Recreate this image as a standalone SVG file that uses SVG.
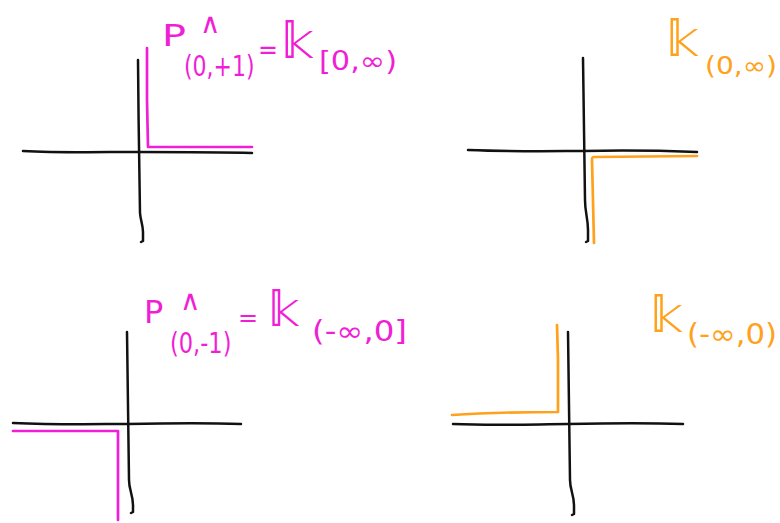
<svg xmlns="http://www.w3.org/2000/svg" width="780" height="523" viewBox="0 0 780 523">
<style>
.ax{fill:none;stroke:#111;stroke-width:2.5;stroke-linecap:round;stroke-linejoin:round}
.mg{fill:none;stroke:#f01fd6;stroke-width:2.7;stroke-linecap:round;stroke-linejoin:round}
.or{fill:none;stroke:#ffa11a;stroke-width:2.7;stroke-linecap:round;stroke-linejoin:round}
.tm{fill:#f01fd6;font-family:"DejaVu Sans","Noto Sans",sans-serif}
.to{fill:#ffa11a;font-family:"DejaVu Sans","Noto Sans",sans-serif}
</style>
<rect width="780" height="523" fill="#fff"/>
<g id="panel-top-left">
  <path class="ax" d="M138,60 C138.5,110 139,170 140,213 C140.5,220 143,225 143,232 L143,241 L141,242"/>
  <path class="ax" d="M23,151 C60,153 100,152 138,152 C180,152 220,152 252,153"/>
  <path class="mg" d="M147,48 L147,100 L148,147 L252,147"/>
  <g id="label-top-left">
    <text class="tm" x="162" y="46" font-size="30" textLength="24" lengthAdjust="spacingAndGlyphs">P</text>
    <text class="tm" x="200" y="33" font-size="28">∧</text>
    <text class="tm" transform="translate(184,76) scale(1,1.25)" x="0" y="0" font-size="22">(0,+1)</text>
    <text class="tm" x="258" y="59" font-size="26" textLength="20" lengthAdjust="spacingAndGlyphs">=</text>
    <text class="tm" x="281" y="58" font-size="50">𝕜</text>
    <text class="tm" x="319" y="70" font-size="26" textLength="78" lengthAdjust="spacingAndGlyphs">[0,∞)</text>
  </g>
</g>
<g id="panel-top-right">
  <path class="ax" d="M583,58 L585,200 C585,213 588,218 588,230 L588,241 L586,242"/>
  <path class="ax" d="M468,150 C520,152 560,151 583,151 C630,150 670,151 697,152"/>
  <path class="or" d="M697,156 L594,157 C592,157 592,158 592,160 L594,243"/>
  <g id="label-top-right">
    <text class="to" x="666" y="56" font-size="50">𝕜</text>
    <text class="to" x="705" y="74" font-size="24" textLength="72" lengthAdjust="spacingAndGlyphs">(0,∞)</text>
  </g>
</g>
<g id="panel-bottom-left">
  <path class="ax" d="M127,332 L129,480 C129,490 133,495 133,505 L133,512 L131,513"/>
  <path class="ax" d="M13,423 C60,425 100,424 127,424 C180,423 210,423 241,424"/>
  <path class="mg" d="M13,431 L118,431 L118,520"/>
  <g id="label-bottom-left">
    <text class="tm" x="144" y="323" font-size="32">P</text>
    <text class="tm" x="180" y="310" font-size="28">∧</text>
    <text class="tm" transform="translate(170,353) scale(1,1.25)" x="0" y="0" font-size="22.5">(0,-1)</text>
    <text class="tm" x="238" y="326" font-size="24">=</text>
    <text class="tm" x="268" y="326" font-size="48">𝕜</text>
    <text class="tm" x="312" y="341" font-size="28" textLength="95" lengthAdjust="spacingAndGlyphs">(-∞,0]</text>
  </g>
</g>
<g id="panel-bottom-right">
  <path class="ax" d="M568,332 L570,480 C570,490 574,495 574,505 L574,514 L572,515"/>
  <path class="ax" d="M453,424 C500,426 540,424 568,424 C620,423 650,423 683,424"/>
  <path class="or" d="M452,415 C480,413 520,412 558,412 L558,360 L557,325"/>
  <g id="label-bottom-right">
    <text class="to" x="650" y="332" font-size="50">𝕜</text>
    <text class="to" x="687" y="344" font-size="28" textLength="90" lengthAdjust="spacingAndGlyphs">(-∞,0)</text>
  </g>
</g>
</svg>
